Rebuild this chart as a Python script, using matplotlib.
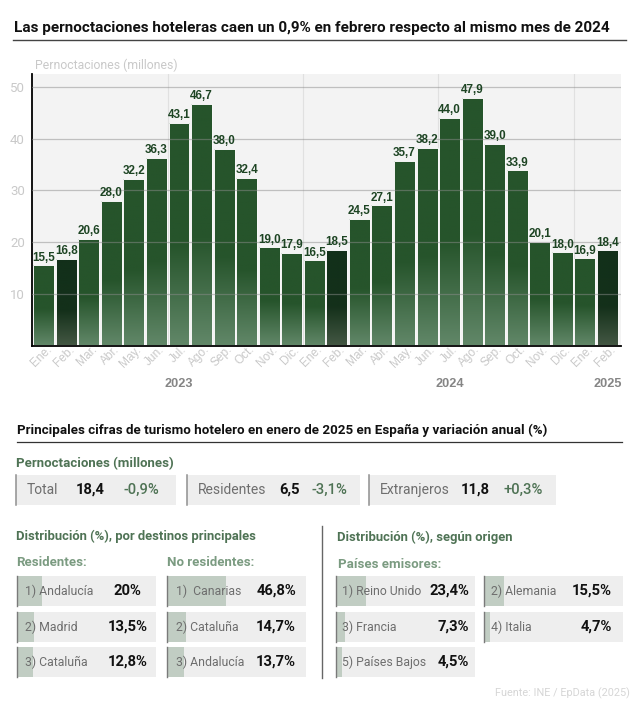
import numpy as np
import matplotlib
matplotlib.use("Agg")
import matplotlib.pyplot as plt
from matplotlib.colors import LinearSegmentedColormap
from matplotlib.patches import Rectangle
from matplotlib.transforms import ScaledTranslation

plt.rcParams['font.family'] = ['Roboto', 'DejaVu Sans']

# Data
meses = ["Ene.", "Feb.", "Mar.", "Abr.", "May.", "Jun.", "Jul.", "Ago.", "Sep.", "Oct.", "Nov.", "Dic.",
         "Ene.", "Feb.", "Mar.", "Abr.", "May.", "Jun.", "Jul.", "Ago.", "Sep.", "Oct.", "Nov.", "Dic.",
         "Ene.", "Feb."]
valores = [15.5, 16.8, 20.6, 28.0, 32.2, 36.3, 43.1, 46.7, 38.0, 32.4, 19.0, 17.9,
           16.5, 18.5, 24.5, 27.1, 35.7, 38.2, 44.0, 47.9, 39.0, 33.9, 20.1, 18.0,
           16.9, 18.4]
anios = ["2023", "2024", "2025"]
anios_pos = [6, 18, 25]

total_labels = ["Total", "Residentes", "Extranjeros"]
total_valores = ["18,4", "6,5", "11,8"]
total_var = ["-0,9%", "-3,1%", "+0,3%"]

residentes = ["1) Andalucía", "2) Madrid", "3) Cataluña"]
residentes_pct = [20.0, 13.5, 12.8]
no_residentes = ["1)  Canarias", "2) Cataluña", "3) Andalucía"]
no_residentes_pct = [46.8, 14.7, 13.7]
emisores_a = ["1) Reino Unido", "3) Francia", "5) Países Bajos"]
emisores_a_pct = [23.4, 7.3, 4.5]
emisores_b = ["2) Alemania", "4) Italia"]
emisores_b_pct = [15.5, 4.7]

W, H = 639, 709
VERDE = "#4f7355"
VERDE_CLARO = "#7b9b81"
GRIS_TICK = "#c9c9c9"
ANCHO = 0.93


def fmt(v, dec=1):
    txt = f"{v:.{dec}f}".replace(".", ",")
    return txt


def fmt_pct(v):
    return ("20" if v == 20 else fmt(v)) + "%"


fig = plt.figure(figsize=(W / 100, H / 100), dpi=100, facecolor="white")

# Chart axes, placed in pixels
x0, x1, y_top, y_bot = 32, 621, 74, 345.5
ax = fig.add_axes([x0 / W, 1 - y_bot / H, (x1 - x0) / W, (y_bot - y_top) / H])
ax.set_facecolor("#f3f3f3")

x = np.arange(len(valores))
bars = ax.bar(x, valores, width=ANCHO, facecolor="none", edgecolor="#f8f8f8", linewidth=0.7, zorder=2.2)

cmap_normal = LinearSegmentedColormap.from_list("n", [(0, "#26542b"), (0.55, "#26542b"), (1, "#618768")])
cmap_feb = LinearSegmentedColormap.from_list("f", [(0, "#12301a"), (0.6, "#14301a"), (1, "#435743")])
grad = np.linspace(0, 1, 256).reshape(-1, 1)
for xi, v, m, b in zip(x, valores, meses, bars):
    cm = cmap_feb if m == "Feb." else cmap_normal
    im = ax.imshow(grad, cmap=cm, aspect="auto", extent=(xi - ANCHO / 2, xi + ANCHO / 2, 0, v), zorder=2.1)
    im.set_clip_path(b)
    ax.text(xi, v + 0.3, fmt(v), ha="center", va="bottom", fontsize=8.4, fontweight="bold",
            family="Liberation Sans", color="#1d4423", zorder=5)
ax.set_xlim(-0.518, 25.6)
ax.set_ylim(0, 52.5)

ax.set_yticks([10, 20, 30, 40, 50])
ax.yaxis.grid(True, color="#8c8c8c", alpha=0.5, lw=0.9, zorder=3)
for vx in [5.5, 11.5, 17.5, 23.5]:
    ax.axvline(vx, color="#e0e0e0", lw=0.8, zorder=1)
ax.set_axisbelow(False)
ax.tick_params(axis="x", length=0, pad=5)
ax.tick_params(axis="y", length=0, pad=5, labelsize=9.5, labelcolor=GRIS_TICK)
ax.set_xticks(x)
ax.set_xticklabels(meses, rotation=45, ha="right", va="center", rotation_mode="anchor",
                   fontsize=8.6, color=GRIS_TICK, family="Liberation Sans")
# month labels sit closer to the bars than the tick pad gives
desplaza = ScaledTranslation(6 / 100, 4.5 / 100, fig.dpi_scale_trans)
for lab in ax.get_xticklabels():
    lab.set_transform(lab.get_transform() + desplaza)
for s in ["top", "right"]:
    ax.spines[s].set_visible(False)
for s in ["left", "bottom"]:
    ax.spines[s].set_linewidth(1.3)
    ax.spines[s].set_color("black")

trans = ax.get_xaxis_transform()
for a, p in zip(anios, anios_pos):
    ax.text(p, -0.142, a, transform=trans, ha="center", va="center", fontsize=9.2, fontweight="bold",
            color="#858585", family="Liberation Sans")

# Overlay in pixel coordinates for the texts and panels
ov = fig.add_axes([0, 0, 1, 1], facecolor="none")
ov.set_xlim(0, W)
ov.set_ylim(H, 0)
ov.axis("off")


def texto(px, py, s, size, color="black", weight="normal", ha="left"):
    ov.text(px, py, s, fontsize=size, color=color, fontweight=weight, ha=ha, va="center")


texto(14, 28, "Las pernoctaciones hoteleras caen un 0,9% en febrero respecto al mismo mes de 2024", 11.0, "#111111", "bold")
ov.plot([13, 626], [40, 40], color="#444444", lw=1)
texto(35, 65, "Pernoctaciones (millones)", 8.8, GRIS_TICK)

texto(17, 430, "Principales cifras de turismo hotelero en enero de 2025 en España y variación anual (%)", 9.67, "#111111", "bold")
ov.plot([17, 622], [441.5, 441.5], color="#333333", lw=0.9)
texto(16, 464, "Pernoctaciones (millones)", 9.5, VERDE, "bold")

# Totals row
box_x = [15.5, 187, 369]
box_w = [160.5, 173, 187]
lab_x = [27, 198, 380]
val_x = [76, 279, 461]
var_x = [123, 312, 503]
for i in range(3):
    ov.add_patch(Rectangle((box_x[i], 475), box_w[i], 30, fc="#eeeeee", ec="none"))
    ov.plot([box_x[i], box_x[i]], [475, 505], color="#8f8f8f", lw=1.1)
    texto(lab_x[i], 490, total_labels[i], 10, "#6e6e6e")
    texto(val_x[i], 490, total_valores[i], 10.6, "#111111", "bold")
    texto(var_x[i], 490, total_var[i], 10.6, VERDE, "medium")

texto(16, 536, "Distribución (%), por destinos principales", 9.4, VERDE, "bold")
texto(337, 537, "Distribución (%), según origen", 9.4, VERDE, "bold")
ov.plot([321.5, 321.5], [526, 678], color="#666666", lw=1)

texto(16, 563, "Residentes:", 9.5, VERDE_CLARO, "bold")
texto(167, 563, "No residentes:", 9.5, VERDE_CLARO, "bold")
texto(338, 564, "Países emisores:", 9.5, VERDE_CLARO, "bold")

rows_y = [576, 612, 647]
PX_POR_PCT = 1.27


def columna(bx, lx, vx, labels, pcts, ha="right"):
    for ry, lab, p in zip(rows_y, labels, pcts):
        ov.add_patch(Rectangle((bx, ry), 139, 30, fc="#eeeeee", ec="none", zorder=1))
        ov.add_patch(Rectangle((bx, ry), p * PX_POR_PCT, 30, fc="#c1cdc3", ec="none", zorder=1.1))
        ov.plot([bx, bx], [ry, ry + 30], color="#7a7a7a", lw=1, zorder=1.2)
        texto(lx, ry + 15, lab, 8.8, "#6e6e6e")
        texto(vx, ry + 15, fmt_pct(p), 10.6, "#111111", "bold", ha=ha)


columna(17, 25, 127.5, residentes, residentes_pct, ha="center")
columna(167, 176, 296, no_residentes, no_residentes_pct)
columna(336, 342.5, 469, emisores_a, emisores_a_pct)
columna(484, 491, 612, emisores_b, emisores_b_pct)

texto(630, 693, "Fuente: INE / EpData (2025)", 7.8, "#d6d6d6", ha="right")

fig.savefig("out.png", dpi=100)
